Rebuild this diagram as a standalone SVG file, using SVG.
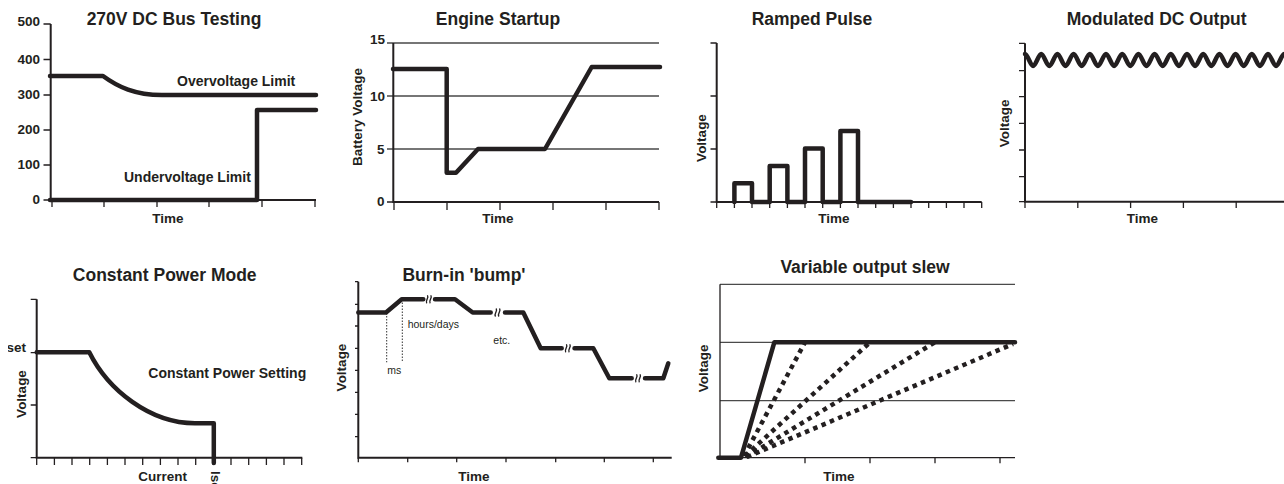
<svg xmlns="http://www.w3.org/2000/svg" xmlns:xlink="http://www.w3.org/1999/xlink" width="1284" height="484" viewBox="0 0 1284 484">
<style>
text{font-family:"Liberation Sans",Arial,Helvetica,sans-serif;font-weight:bold;fill:#231f20}
.title{font-size:17.5px;text-anchor:middle}
.lab{font-size:13.5px}
.mid{text-anchor:middle}
.end{text-anchor:end}
.in{font-size:14px}
.sm{font-size:10.5px;font-weight:normal}
.ax{stroke:#231f20;stroke-width:2;fill:none}
.tk{stroke:#231f20;stroke-width:1.3;fill:none}
.grid{stroke:#4a4a4a;stroke-width:1.3;fill:none}
.tr{stroke:#231f20;stroke-width:4.5;fill:none;stroke-linecap:round;stroke-linejoin:round}
.dot{stroke:#231f20;stroke-width:4.5;fill:none;stroke-dasharray:4.5 4.5}
.fine{stroke:#333;stroke-width:1;fill:none;stroke-dasharray:1.5 1.5}
.brk{stroke:#231f20;stroke-width:1.4;fill:none;stroke-linecap:round}
</style>
<defs>
<g id="brk"><path class="brk" d="M-2.2 3.5C-3.6 1.5 0.2-1.5-1.2-3.5M1.2 3.5C-0.2 1.5 3.6-1.5 2.2-3.5"/></g>
<clipPath id="clipSet"><rect x="8" y="330" width="30" height="30"/></clipPath>
</defs>
<rect width="1284" height="484" fill="#fff"/>

<g id="chart-270v">
<text class="title" x="174" y="25">270V DC Bus Testing</text>
<path class="ax" d="M50.7 24V200H316"/>
<path class="tk" d="M43.5 24H50.7M43.5 59.5H50.7M43.5 95H50.7M43.5 130H50.7M43.5 165H50.7M43.5 200H50.7M52 200V207M104 200V207M157 200V207M209 200V207M262 200V207M315 200V207"/>
<text class="lab end" x="40" y="25.5">500</text>
<text class="lab end" x="40" y="63.5">400</text>
<text class="lab end" x="40" y="99">300</text>
<text class="lab end" x="40" y="134">200</text>
<text class="lab end" x="40" y="169">100</text>
<text class="lab end" x="40" y="203.5">0</text>
<path class="tr" d="M50 76H103C118 87 135 95 162 95H316"/>
<path class="tr" d="M50 200H257V110H316"/>
<text class="in" x="177" y="86">Overvoltage Limit</text>
<text class="in" x="124" y="182">Undervoltage Limit</text>
<text class="lab mid" x="168" y="223">Time</text>
</g>

<g id="chart-engine">
<text class="title" x="498" y="25">Engine Startup</text>
<path class="grid" d="M387 43H659M387 96H659M387 149H659"/>
<path class="ax" d="M393.3 43V202H659"/>
<path class="tk" d="M387 202H393M394 202V210M447 202V210M500 202V210M553 202V210M606 202V210M659 202V210"/>
<text class="lab end" x="385" y="44">15</text>
<text class="lab end" x="385" y="101">10</text>
<text class="lab end" x="384.5" y="153.5">5</text>
<text class="lab end" x="384.5" y="206">0</text>
<text class="lab mid" transform="translate(362.3 117) rotate(-90)">Battery Voltage</text>
<path class="tr" d="M393 69H446.7V172.7H456L478 149H545L591.7 67H660"/>
<text class="lab mid" x="498" y="223">Time</text>
</g>

<g id="chart-ramped">
<text class="title" x="812" y="25">Ramped Pulse</text>
<path class="ax" d="M716.7 43V202H981.7"/>
<path class="tk" d="M710.5 43H716.7M710.5 96H716.7M710.5 149H716.7M710.5 202H716.7M716.7 202V208M734.4 202V208M752 202V208M769.7 202V208M787.4 202V208M805 202V208M822.7 202V208M840.4 202V208M858 202V208M875.7 202V208M893.4 202V208M911 202V208M928.7 202V208M946.4 202V208M964 202V208M981.7 202V208"/>
<text class="lab mid" transform="translate(705.5 138) rotate(-90)">Voltage</text>
<path class="tr" d="M734.4 202V183.3H752V202H769.7V166H787.4V202H805V148.5H822.7V202H840.4V131H858V202H911"/>
<text class="lab mid" x="834" y="223">Time</text>
</g>

<g id="chart-modulated">
<text class="title" x="1156.7" y="25">Modulated DC Output</text>
<path class="ax" d="M1025 43.3V201.7H1284"/>
<path class="tk" d="M1019 43.3H1025M1019 70.7H1025M1019 96.7H1025M1019 123.3H1025M1019 150H1025M1019 176.7H1025M1019 201.7H1025M1025 201.7V208M1077.8 201.7V208M1130.6 201.7V208M1183.4 201.7V208M1236.2 201.7V208"/>
<text class="lab mid" transform="translate(1008.5 123.3) rotate(-90)">Voltage</text>
<path class="tr" d="M1025 54c2.7 0 5.4 12 8.1 12s5.4-12 8.1-12s5.4 12 8.1 12s5.4-12 8.1-12s5.4 12 8.1 12s5.4-12 8.1-12s5.4 12 8.1 12s5.4-12 8.1-12s5.4 12 8.1 12s5.4-12 8.1-12s5.4 12 8.1 12s5.4-12 8.1-12s5.4 12 8.1 12s5.4-12 8.1-12s5.4 12 8.1 12s5.4-12 8.1-12s5.4 12 8.1 12s5.4-12 8.1-12s5.4 12 8.1 12s5.4-12 8.1-12s5.4 12 8.1 12s5.4-12 8.1-12s5.4 12 8.1 12s5.4-12 8.1-12s5.4 12 8.1 12s5.4-12 8.1-12s5.4 12 8.1 12s5.4-12 8.1-12s5.4 12 8.1 12s5.4-12 8.1-12s5.4 12 8.1 12s5.4-12 8.1-12s5.4 12 8.1 12"/>
<text class="lab mid" x="1142.5" y="223">Time</text>
</g>

<g id="chart-constant-power">
<text class="title" x="164.7" y="281">Constant Power Mode</text>
<path class="ax" d="M36.7 299.3V457.7H302.3"/>
<path class="tk" d="M30.7 299.3H36.7M30.7 352.7H36.7M30.7 405H36.7M30.7 457.7H36.7M36.7 457.7V465M54.4 457.7V465M72 457.7V465M89.7 457.7V465M107.4 457.7V465M125 457.7V465M142.7 457.7V465M160.4 457.7V465M178 457.7V465M195.7 457.7V465M213.4 457.7V465M231 457.7V465M248.7 457.7V465M266.4 457.7V465M284 457.7V465M301.7 457.7V465"/>
<text class="lab end" x="26" y="351.7" clip-path="url(#clipSet)">set</text>
<text class="lab mid" transform="translate(26.3 394) rotate(-90)">Voltage</text>
<path class="tr" d="M36.7 352.3H89.3C108 390 150 423.3 195 423.3H213.8V463"/>
<text class="in" x="148.3" y="377.7">Constant Power Setting</text>
<text class="lab" x="138.3" y="481">Current</text>
<text class="lab" transform="translate(210.5 471) rotate(90)">Iset</text>
</g>

<g id="chart-burnin">
<text class="title" x="464" y="281">Burn-in 'bump'</text>
<path class="ax" d="M358.3 281.7V457.7H671.7"/>
<path class="tk" d="M355 281.7H358.3M355 304.3H358.3M355 326H358.3M355 348.3H358.3M355 370.3H358.3M355 392.3H358.3M355 414.3H358.3M355 436.7H358.3M358.3 457.7V462.3M407.7 457.7V462.3M456.7 457.7V462.3M506 457.7V462.3M555.7 457.7V462.3M604.3 457.7V462.3M653.3 457.7V462.3"/>
<text class="lab mid" transform="translate(345.5 367.5) rotate(-90)">Voltage</text>
<path class="fine" d="M386.7 313V362.3M402.3 299.5V362.3"/>
<path class="tr" d="M358.3 312.5H386L401.7 299.3H423.3"/>
<path class="tr" d="M435 299.3H455L472.7 312.5H490.7"/>
<path class="tr" d="M505 312.5H523.3L540.7 348.3H561.7"/>
<path class="tr" d="M574.5 348.3H593.3L609.3 378.3H631.7"/>
<path class="tr" d="M645 378.3H663.3L668.3 363.3"/>
<use xlink:href="#brk" x="428.8" y="299.3"/>
<use xlink:href="#brk" x="497.5" y="312.5"/>
<use xlink:href="#brk" x="567.8" y="348.3"/>
<use xlink:href="#brk" x="638" y="378.3"/>
<text class="sm" x="387.3" y="373.5">ms</text>
<text class="sm" x="407.7" y="327.5">hours/days</text>
<text class="sm" x="493.3" y="344">etc.</text>
<text class="lab mid" x="474" y="481">Time</text>
</g>

<g id="chart-slew">
<text class="title" x="865" y="273">Variable output slew</text>
<path class="grid" d="M720 284.3H1015M720 342.3H1015M720 400.7H1015"/>
<path class="tk" d="M720 284.3V457.7H1015M805 457.7V463.3M870 457.7V463.3M935 457.7V463.3M1000 457.7V463.3"/>
<text class="lab mid" transform="translate(708 368.3) rotate(-90)">Voltage</text>
<path class="dot" d="M744 456L805 342.3"/>
<path class="dot" d="M745 456L870 342.3"/>
<path class="dot" d="M746 457L935 342.3"/>
<path class="dot" d="M747 457L1013 344"/>
<path class="tr" d="M718.3 457.7H741L774.3 342.3H1015"/>
<text class="lab mid" x="839" y="481">Time</text>
</g>
</svg>
